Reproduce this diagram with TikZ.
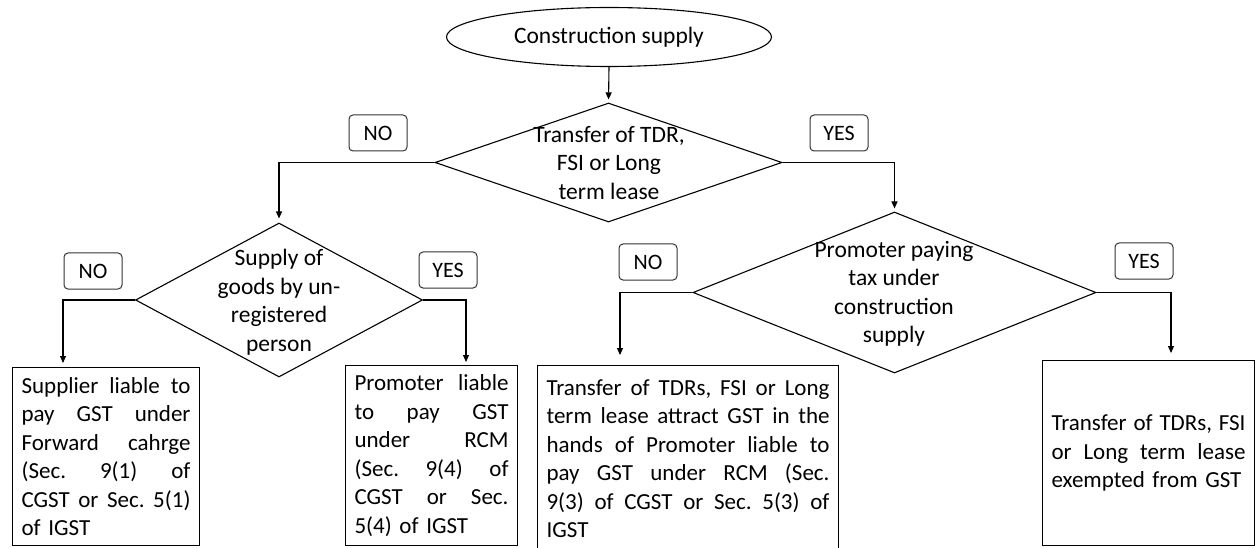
\documentclass[tikz,border=0pt]{standalone}
\usepackage{fontspec}
\setmainfont{Carlito}
\usetikzlibrary{shapes.geometric,arrows.meta}
\newcommand{\jl}[2]{\leavevmode\hbox to #1{\frenchspacing\spaceskip=0.226em plus 1fil\relax\xspaceskip=\spaceskip #2}}
\begin{document}
\begin{tikzpicture}[x=1pt,y=-1pt,
  every node/.style={font=\fontsize{23.5}{28.5}\selectfont, text=black},
  arr/.style={draw=black, line width=1.1pt, -{Triangle[length=7pt,width=6pt]}},
  dshape/.style={shape=diamond, draw, line width=1.1pt, inner sep=0pt},
  dtext/.style={align=center, inner sep=0pt},
  lbl/.style={draw=black!80, rounded corners=4pt, line width=1pt, minimum width=58pt, minimum height=36pt, inner sep=0pt, font=\fontsize{22}{26}\selectfont},
  outbox/.style={draw, line width=1.1pt, anchor=north west, inner xsep=9pt, inner ysep=0pt, align=left, font=\fontsize{23}{28.5}\selectfont}
]
\clip (0,0) rectangle (1256,548);
% start
\node[draw, ellipse, line width=1.1pt, minimum width=325pt, minimum height=59pt, inner sep=0pt] (start) at (609,37) {Construction supply};
% decisions
\node[dshape, minimum width=347pt, minimum height=119pt] (d1) at (608.5,162.5) {};
\node[dtext] (d1t) at (609,163) {Transfer of TDR,\\FSI or Long\\term lease};
\node[dshape, minimum width=287pt, minimum height=154pt] (d2) at (279,300) {};
\node[dtext] (d2t) at (279,302) {Supply of\\goods by un-\\registered\\person};
\node[dshape, minimum width=403pt, minimum height=161pt] (d3) at (894.5,292.5) {};
\node[dtext] (d3t) at (894,294) {Promoter paying\\tax under\\construction\\supply};
% labels
\node[lbl] (no1) at (378,133) {NO};
\node[lbl] (yes1) at (839,133) {YES};
\node[lbl] (no2) at (93,271) {NO};
\node[lbl] (yes2) at (448,270) {YES};
\node[lbl] (no3) at (648,262) {NO};
\node[lbl] (yes3) at (1144,261) {YES};
% outcome boxes
\node[outbox, text width=169pt, minimum height=178pt] (boxA) at (12,367) {\jl{169pt}{Supplier liable to}\\\jl{169pt}{pay GST under}\\\jl{169pt}{Forward cahrge}\\\jl{169pt}{(Sec. 9(1) of}\\\jl{169pt}{CGST or Sec. 5(1)}\\of IGST};
\node[outbox, text width=154pt, minimum height=180pt] (boxB) at (345,365) {\jl{154pt}{Promoter liable}\\\jl{154pt}{to pay GST}\\\jl{154pt}{under RCM}\\\jl{154pt}{(Sec. 9(4) of}\\\jl{154pt}{CGST or Sec.}\\5(4) of IGST};
\node[outbox, text width=283pt, minimum height=186pt] (boxC) at (537,365) {\jl{283pt}{Transfer of TDRs, FSI or Long}\\\jl{283pt}{term lease attract GST in the}\\\jl{283pt}{hands of Promoter liable to}\\\jl{283pt}{pay GST under RCM (Sec.}\\\jl{283pt}{9(3) of CGST or Sec. 5(3) of}\\IGST};
\node[outbox, text width=194pt, minimum height=185pt] (boxD) at (1042,360) {\jl{194pt}{Transfer of TDRs, FSI}\\\jl{194pt}{or Long term lease}\\exempted from GST};
% connectors
\draw[arr, shorten >=3pt] (start.south) -- (d1.north);
\draw[arr, shorten >=4pt] (d1.west) -| (d2.north);
\draw[arr, shorten >=3pt] (d1.east) -| (d3.north);
\draw[arr, shorten >=4pt] (d2.west) -| ([xshift=51pt]boxA.north west);
\draw[arr, shorten >=3pt] (d2.east) -| ([xshift=121pt]boxB.north west);
\draw[arr, shorten >=10pt] (d3.west) -| ([xshift=83pt]boxC.north west);
\draw[arr, shorten >=7pt] (d3.east) -| ([xshift=129pt]boxD.north west);
\end{tikzpicture}
\end{document}
